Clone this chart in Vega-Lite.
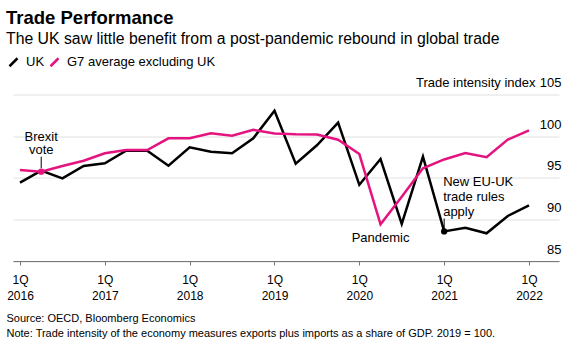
{
  "$schema": "https://vega.github.io/schema/vega-lite/v6.json",
  "width": 546,
  "height": 166.5,
  "autosize": {"type": "none"},
  "padding": {"left": 13, "top": 94.5, "right": 19, "bottom": 96},
  "config": {
    "font": "Liberation Sans",
    "view": {"stroke": null},
    "legend": {"labelFont": "Liberation Sans"},
    "axis": {"labelFont": "Liberation Sans", "titleFont": "Liberation Sans"}
  },
  "title": {
    "text": "Trade Performance",
    "subtitle": "The UK saw little benefit from a post-pandemic rebound in global trade",
    "anchor": "start",
    "frame": "group",
    "dx": -7,
    "offset": 9,
    "fontSize": 18.5,
    "fontWeight": "bold",
    "color": "#000000",
    "subtitleFontSize": 15.8,
    "subtitleColor": "#000000",
    "subtitlePadding": 4
  },
  "datasets": {
    "trade": [
      {"q": 0, "series": "UK", "v": 94.41},
      {"q": 1, "series": "UK", "v": 95.85},
      {"q": 2, "series": "UK", "v": 94.93},
      {"q": 3, "series": "UK", "v": 96.41},
      {"q": 4, "series": "UK", "v": 96.74},
      {"q": 5, "series": "UK", "v": 98.25},
      {"q": 6, "series": "UK", "v": 98.25},
      {"q": 7, "series": "UK", "v": 96.45},
      {"q": 8, "series": "UK", "v": 98.66},
      {"q": 9, "series": "UK", "v": 98.13},
      {"q": 10, "series": "UK", "v": 97.94},
      {"q": 11, "series": "UK", "v": 99.74},
      {"q": 12, "series": "UK", "v": 103.04},
      {"q": 13, "series": "UK", "v": 96.7},
      {"q": 14, "series": "UK", "v": 98.9},
      {"q": 15, "series": "UK", "v": 101.63},
      {"q": 16, "series": "UK", "v": 94.15},
      {"q": 17, "series": "UK", "v": 97.25},
      {"q": 18, "series": "UK", "v": 89.45},
      {"q": 19, "series": "UK", "v": 97.53},
      {"q": 20, "series": "UK", "v": 88.55},
      {"q": 21, "series": "UK", "v": 89.0},
      {"q": 22, "series": "UK", "v": 88.33},
      {"q": 23, "series": "UK", "v": 90.41},
      {"q": 24, "series": "UK", "v": 91.68},
      {"q": 0, "series": "G7 average excluding UK", "v": 95.93},
      {"q": 1, "series": "G7 average excluding UK", "v": 95.73},
      {"q": 2, "series": "G7 average excluding UK", "v": 96.41},
      {"q": 3, "series": "G7 average excluding UK", "v": 97.05},
      {"q": 4, "series": "G7 average excluding UK", "v": 97.94},
      {"q": 5, "series": "G7 average excluding UK", "v": 98.33},
      {"q": 6, "series": "G7 average excluding UK", "v": 98.33},
      {"q": 7, "series": "G7 average excluding UK", "v": 99.74},
      {"q": 8, "series": "G7 average excluding UK", "v": 99.74},
      {"q": 9, "series": "G7 average excluding UK", "v": 100.34},
      {"q": 10, "series": "G7 average excluding UK", "v": 100.05},
      {"q": 11, "series": "G7 average excluding UK", "v": 100.76},
      {"q": 12, "series": "G7 average excluding UK", "v": 100.32},
      {"q": 13, "series": "G7 average excluding UK", "v": 100.22},
      {"q": 14, "series": "G7 average excluding UK", "v": 100.19},
      {"q": 15, "series": "G7 average excluding UK", "v": 99.57},
      {"q": 16, "series": "G7 average excluding UK", "v": 97.85},
      {"q": 17, "series": "G7 average excluding UK", "v": 89.4},
      {"q": 18, "series": "G7 average excluding UK", "v": 92.72},
      {"q": 19, "series": "G7 average excluding UK", "v": 96.13},
      {"q": 20, "series": "G7 average excluding UK", "v": 97.2},
      {"q": 21, "series": "G7 average excluding UK", "v": 97.97},
      {"q": 22, "series": "G7 average excluding UK", "v": 97.46},
      {"q": 23, "series": "G7 average excluding UK", "v": 99.58},
      {"q": 24, "series": "G7 average excluding UK", "v": 100.7}
    ]
  },
  "data": {"name": "trade"},
  "encoding": {
    "x": {
      "field": "q",
      "type": "quantitative",
      "scale": {"domain": [-0.33, 25.415], "nice": false, "zero": false},
      "axis": {
        "values": [0, 4, 8, 12, 16, 20, 24],
        "labelExpr": "['1Q', '' + (2016 + datum.value / 4)]",
        "grid": false,
        "domainColor": "#777777",
        "tickColor": "#777777",
        "tickSize": 4,
        "labelFontSize": 12,
        "labelColor": "#000000",
        "labelPadding": 9,
        "labelLineHeight": 16.5,
        "labelFlush": false,
        "labelOverlap": false,
        "title": ["Source: OECD, Bloomberg Economics", "Note: Trade intensity of the economy measures exports plus imports as a share of GDP. 2019 = 100."],
        "titleFontSize": 11,
        "titleFontWeight": "normal",
        "titleColor": "#000000",
        "titleAnchor": "start",
        "titleAlign": "left",
        "titleBaseline": "alphabetic",
        "titleX": -7,
        "titleY": 60.7,
        "titleLineHeight": 15
      }
    },
    "y": {
      "field": "v",
      "type": "quantitative",
      "scale": {"domain": [85, 105], "nice": false, "zero": false},
      "axis": {
        "orient": "right",
        "values": [85, 90, 95, 100, 105],
        "grid": true,
        "gridColor": "#e0e0e0",
        "gridWidth": 1,
        "domain": false,
        "ticks": false,
        "labelAlign": "right",
        "labelBaseline": "alphabetic",
        "labelOffset": -8,
        "labelPadding": 2,
        "labelFontSize": 13,
        "labelColor": "#000000",
        "labelFlush": false,
        "labelOverlap": false,
        "title": "Trade intensity index",
        "titleAngle": 0,
        "titleAlign": "right",
        "titleBaseline": "alphabetic",
        "titleX": -24,
        "titleY": -7.8,
        "titleFontSize": 13,
        "titleFontWeight": "normal",
        "titleColor": "#000000"
      }
    }
  },
  "layer": [
    {
      "transform": [{"filter": "datum.q == 1 && datum.series == 'UK'"}],
      "mark": {"type": "rule", "yOffset": -14, "y2Offset": -2.5, "color": "#000000", "strokeWidth": 1},
      "encoding": {"y2": {"field": "v"}}
    },
    {
      "transform": [{"filter": "datum.q == 20 && datum.series == 'UK'"}],
      "mark": {"type": "rule", "yOffset": -13, "y2Offset": -1.5, "color": "#000000", "strokeWidth": 1},
      "encoding": {"y2": {"field": "v"}}
    },
    {
      "transform": [{"filter": "datum.series == 'UK'"}],
      "mark": {"type": "line", "strokeWidth": 2.5, "strokeJoin": "miter"},
      "encoding": {
        "color": {
          "field": "series",
          "type": "nominal",
          "scale": {"domain": ["UK", "G7 average excluding UK"], "range": ["#000000", "#e5137f"]},
          "legend": {
            "orient": "none",
            "legendX": -6,
            "legendY": -39,
            "direction": "horizontal",
            "title": null,
            "symbolType": "M-1,1L1,-1",
            "symbolSize": 64,
            "symbolStrokeWidth": 2.5,
            "labelFontSize": 13,
            "labelColor": "#000000",
            "labelOffset": 6,
            "columnPadding": 0,
            "padding": 0
          }
        }
      }
    },
    {
      "transform": [{"filter": "datum.series != 'UK'"}],
      "mark": {"type": "line", "strokeWidth": 2.5, "strokeJoin": "miter"},
      "encoding": {"color": {"field": "series", "type": "nominal"}}
    },
    {
      "transform": [{"filter": "datum.q == 1 && datum.series != 'UK'"}],
      "mark": {"type": "point", "filled": true, "size": 40, "color": "#e5137f", "opacity": 1}
    },
    {
      "transform": [{"filter": "datum.q == 20 && datum.series == 'UK'"}],
      "mark": {"type": "point", "filled": true, "size": 40, "color": "#000000", "opacity": 1}
    },
    {
      "transform": [{"filter": "datum.q == 1 && datum.series == 'UK'"}],
      "mark": {"type": "text", "text": ["Brexit", "vote"], "align": "center", "baseline": "alphabetic", "dy": -29.8, "lineHeight": 13.6, "fontSize": 13, "color": "#000000"}
    },
    {
      "transform": [{"filter": "datum.q == 17 && datum.series != 'UK'"}],
      "mark": {"type": "text", "text": "Pandemic", "align": "center", "baseline": "alphabetic", "dy": 18, "fontSize": 13, "color": "#000000"}
    },
    {
      "transform": [{"filter": "datum.q == 20 && datum.series == 'UK'"}],
      "mark": {"type": "text", "text": ["New EU-UK", "trade rules", "apply"], "align": "left", "baseline": "alphabetic", "dx": -1, "dy": -45, "lineHeight": 15, "fontSize": 13, "color": "#000000"}
    }
  ]
}
